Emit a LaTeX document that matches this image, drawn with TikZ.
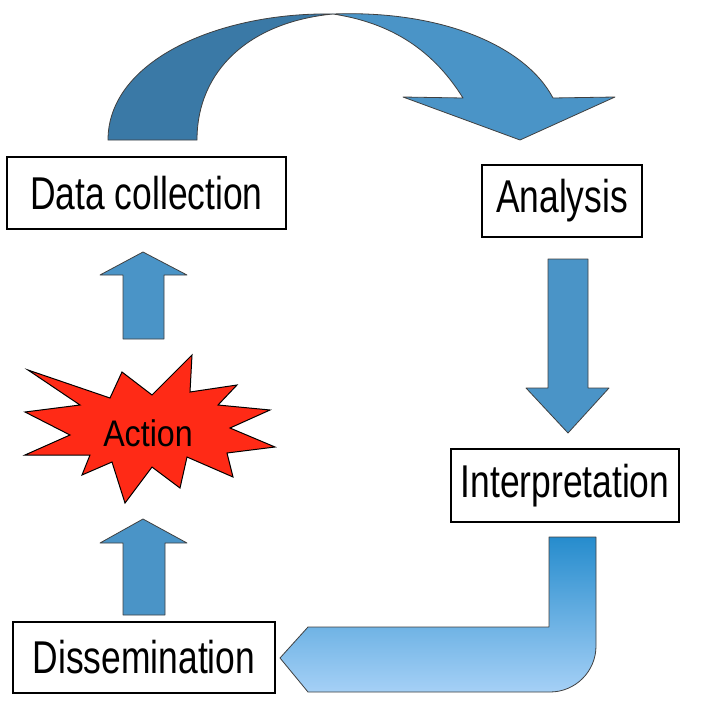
\documentclass[tikz,border=0pt]{standalone}
\usepackage{fontspec}
\setmainfont{Liberation Sans}

\definecolor{arrowblue}{RGB}{74,148,199}
\definecolor{arcdark}{RGB}{58,121,166}
\definecolor{flowtop}{RGB}{38,140,205}
\definecolor{flowbottom}{RGB}{165,208,246}
\definecolor{burstred}{RGB}{255,42,22}

% squeeze the labels sideways like the original slide
\newcommand{\squeeze}[2][0.77]{\scalebox{#1}[1]{#2}}

\begin{document}
\begin{tikzpicture}[x=1pt,y=-1pt,
    stagebox/.style={draw=black, line width=1.2pt, fill=white, inner sep=0pt,
        font=\fontsize{46}{50}\selectfont},
    blockarrow/.style={fill=arrowblue, draw=black!75, line width=0.8pt, line join=round}]

    \useasboundingbox (0,0) rectangle (702,725);

    % the four stages of the cycle
    \node[stagebox, minimum width=279pt, minimum height=72pt] (collect) at (146.5,193) {\squeeze{Data collection}};
    \node[stagebox, minimum width=160pt, minimum height=72pt] (analysis) at (562,201) {\squeeze{Analysis}};
    \node[stagebox, minimum width=228pt, minimum height=73pt] (interp) at (565,485.5) {\squeeze{Interpretation}};
    \node[stagebox, minimum width=262pt, minimum height=71pt] (dissem) at (144,657.5) {\squeeze{Dissemination}};

    % curved arrow over the top: left half
    \fill[arcdark, draw=black!75, line width=0.8pt]
        (108,140) .. controls (108,60) and (220,12) .. (333,14)
        .. controls (250,22) and (197,70) .. (197,140) -- cycle;
    % right half with the head
    \fill[arrowblue, draw=black!75, line width=0.8pt, line join=round]
        (333,14) .. controls (440,10) and (525,45) .. (553,98)
        -- (615,97) -- (520,140) -- (403,97) -- (463,98)
        .. controls (430,45) and (385,22) .. (333,14) -- cycle;

    % straight arrows
    \draw[blockarrow] (548,259) -- (588,259) -- (588,388) -- (609,388)
        -- (568,433) -- (526,388) -- (548,388) -- cycle;
    \draw[blockarrow] (123,339) -- (164,339) -- (164,275) -- (187,275)
        -- (143,252) -- (100,275) -- (123,275) -- cycle;
    \draw[blockarrow] (123,615) -- (165,615) -- (165,543) -- (187,543)
        -- (143,519) -- (100,543) -- (123,543) -- cycle;

    % bent arrow from interpretation back to dissemination
    \draw[top color=flowtop, bottom color=flowbottom, draw=black!75, line width=0.8pt, line join=round]
        (549,537) -- (596,537) -- (596,646) arc (0:90:46) -- (308,692)
        -- (280,658) -- (308,627) -- (549,627) -- cycle;

    % the action burst
    \draw[fill=burstred, draw=black, line width=1pt, line join=miter]
        (28,370) -- (110,398) -- (122,372) -- (152,395) -- (192,355)
        -- (190,392) -- (237,385) -- (218,405) -- (270,410) -- (230,428)
        -- (275,447) -- (227,453) -- (233,477) -- (187,457) -- (180,488)
        -- (152,467) -- (125,503) -- (112,462) -- (82,475) -- (90,455)
        -- (25,455) -- (70,435) -- (25,412) -- (80,405) -- cycle;
    \node[font=\fontsize{37}{40}\selectfont] (action) at (148,433) {\squeeze[0.87]{Action}};

\end{tikzpicture}
\end{document}
